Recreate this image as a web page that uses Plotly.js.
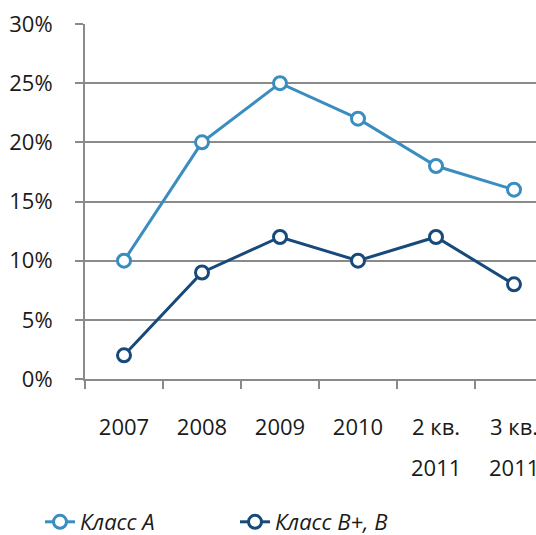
<!DOCTYPE html>
<html>
<head>
<meta charset="utf-8">
<script src="https://cdn.plot.ly/plotly-3.0.1.min.js"></script>
<style>
html,body{margin:0;padding:0;overflow:hidden;background:#fff;}
#chart{width:553px;height:535px;}
</style>
</head>
<body>
<div id="chart"></div>
<script>
const categories = ["2007", "2008", "2009", "2010", "2 кв. 2011", "3 кв. 2011"];
const tickLine1 = ["2007", "2008", "2009", "2010", "2 кв.", "3 кв."];
const tickLine2 = ["", "", "", "", "2011", "2011"];
const seriesNames = ["Класс А", "Класс В+, В"];
const classA = [0.10, 0.20, 0.25, 0.22, 0.18, 0.16];
const classB = [0.02, 0.09, 0.12, 0.10, 0.12, 0.08];

const colA = "#3a8dbf";
const colB = "#17497a";
const font = "Open Sans, sans-serif";

function trace(y, name, color) {
  return {
    x: categories, y: y, name: name, type: "scatter", mode: "lines+markers",
    line: {color: color, width: 3},
    marker: {symbol: "circle", size: 13, color: "#ffffff", line: {color: color, width: 3}},
    cliponaxis: false
  };
}

const annotations = [];
tickLine2.forEach((t, i) => {
  if (t) annotations.push({
    x: categories[i], xref: "x", y: -0.248, yref: "paper",
    text: t, showarrow: false, yanchor: "middle", xanchor: "center",
    font: {family: font, size: 22, color: "#1a1a1a"}
  });
});

const layout = {
  width: 553, height: 535,
  margin: {l: 85, r: 0, t: 24, b: 156},
  paper_bgcolor: "#ffffff", plot_bgcolor: "#ffffff",
  showlegend: true,
  legend: {
    orientation: "h", xref: "container", yref: "container",
    x: 40 / 553, y: 1 - 522 / 535, xanchor: "left", yanchor: "middle",
    font: {family: font, size: 22, color: "#1a1a1a", style: "italic"},
    entrywidth: 150, entrywidthmode: "pixels"
  },
  xaxis: {
    type: "category", tickvals: categories, ticktext: tickLine1,
    showline: true, linecolor: "#8a8a8a", linewidth: 2,
    ticks: "outside", tickson: "boundaries", ticklen: 8, tickwidth: 2, tickcolor: "#8a8a8a",
    showgrid: false, zeroline: false,
    range: [-0.5, 5.5],
    ticklabelstandoff: 28,
    tickfont: {family: font, size: 22, color: "#1a1a1a"}
  },
  yaxis: {
    range: [0, 0.30], dtick: 0.05, tickformat: ".0%",
    showline: true, linecolor: "#8a8a8a", linewidth: 2,
    ticks: "outside", ticklen: 8, tickwidth: 2, tickcolor: "#8a8a8a",
    showgrid: true, gridcolor: "#8a8a8a", gridwidth: 2, zeroline: false,
    ticklabelstandoff: 18,
    tickfont: {family: font, size: 22, color: "#1a1a1a"}
  },
  annotations: annotations
};

Plotly.newPlot("chart", [trace(classA, seriesNames[0], colA), trace(classB, seriesNames[1], colB)], layout, {displayModeBar: false, staticPlot: true});
</script>
</body>
</html>
